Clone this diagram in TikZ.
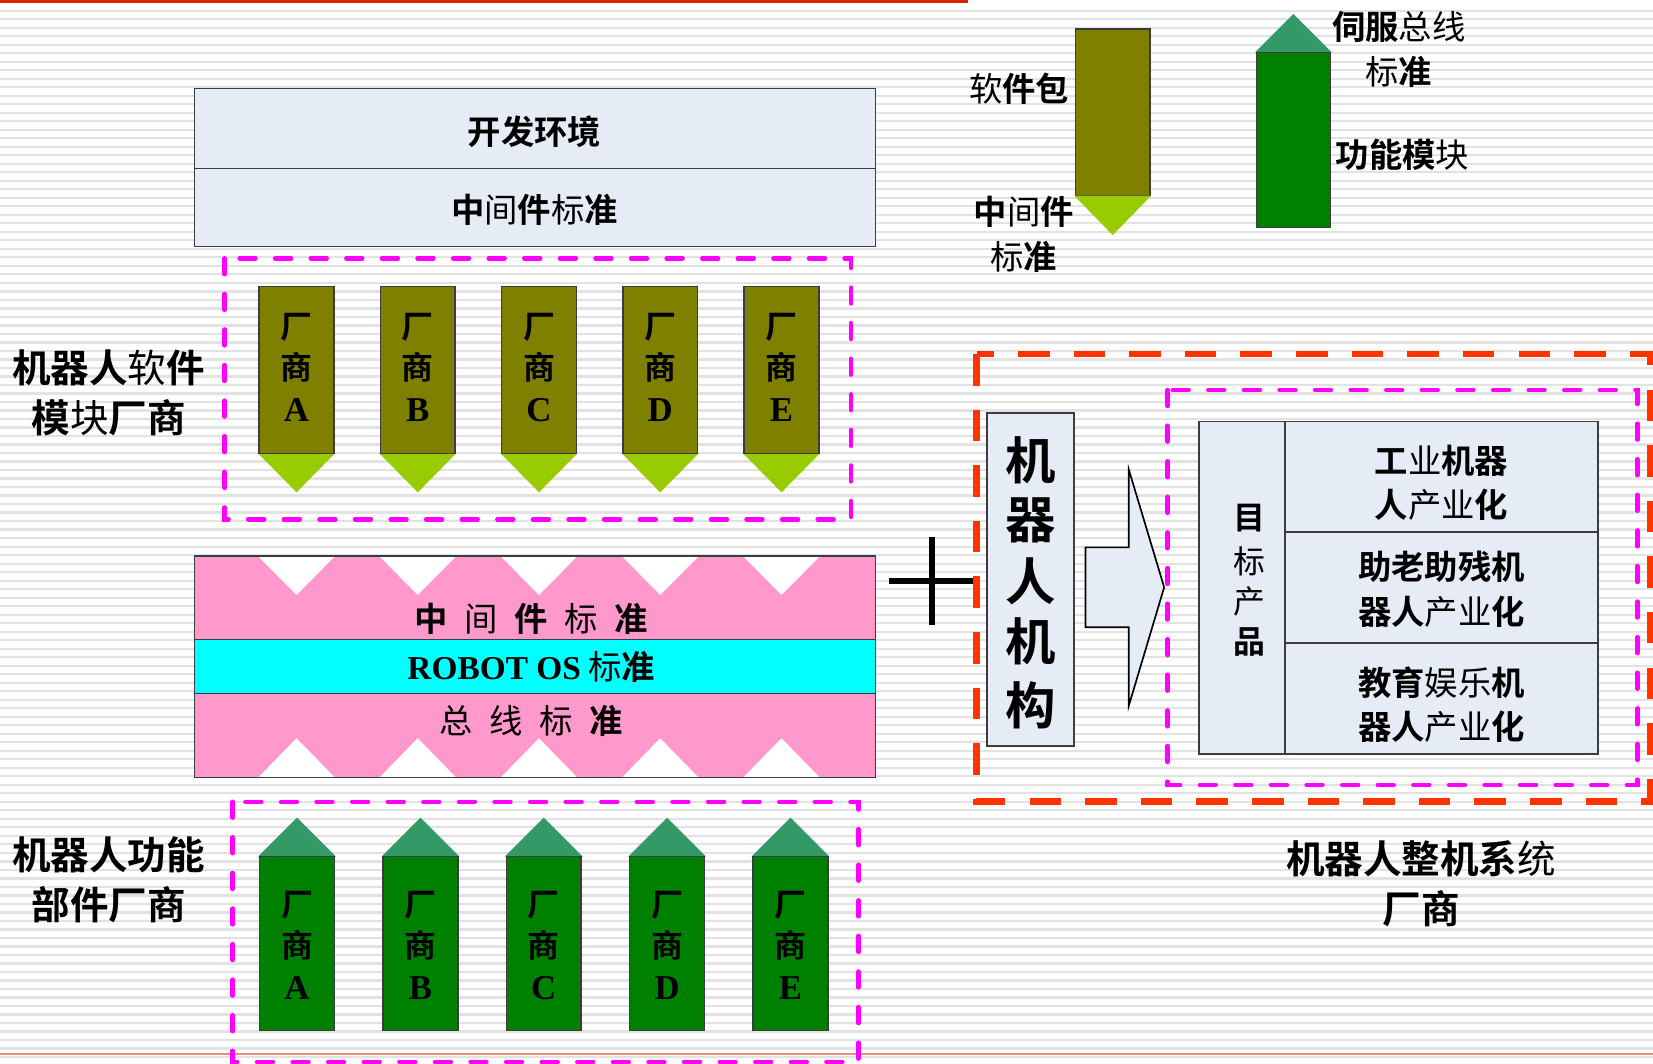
\documentclass[tikz,border=0pt]{standalone}
\usepackage{fontspec}
\newfontfamily\cjk{Noto Sans CJK SC}[BoldFont={Noto Sans CJK SC Bold}]
\newfontfamily\tms{Liberation Serif}
\newcommand\rg[1]{{\mdseries#1}}
\definecolor{lb}{RGB}{230,236,246}
\definecolor{olv}{RGB}{128,128,0}
\definecolor{lgr}{RGB}{153,204,0}
\definecolor{dgr}{RGB}{0,128,0}
\definecolor{sgr}{RGB}{51,153,102}
\definecolor{pnk}{RGB}{255,153,204}
\definecolor{cyn}{RGB}{0,255,255}
\definecolor{mag}{RGB}{255,0,255}
\definecolor{rdd}{RGB}{255,51,0}
\definecolor{topred}{RGB}{222,34,0}
\definecolor{salmon}{RGB}{232,140,125}
\definecolor{strp}{RGB}{226,226,226}
\definecolor{edge}{RGB}{60,60,60}
\begin{document}
\begin{tikzpicture}[x=0.01cm,y=-0.01cm,
  every node/.style={inner sep=0pt, outer sep=0pt},
  edgeline/.style={draw=edge, line width=0.4pt},
  stripe/.style={draw=strp, line width=0.6pt},
  mdash/.style={draw=mag, line width=1.2pt, line cap=round, dash pattern=on 4.3pt off 5.3pt},
  rdash/.style={draw=rdd, line width=1.8pt, dash pattern=on 8.5pt off 6.5pt},
  t9/.style={font=\cjk\bfseries\fontsize{9pt}{11.9pt}\selectfont, align=center},
  t9b/.style={font=\cjk\bfseries\fontsize{9pt}{12.2pt}\selectfont, align=center},
  tlab/.style={font=\cjk\bfseries\fontsize{10.4pt}{13.4pt}\selectfont, align=center},
  tpen/.style={font=\cjk\bfseries\fontsize{8.6pt}{10pt}\selectfont},
  tlat/.style={font=\tms\bfseries\fontsize{9.4pt}{10pt}\selectfont},
  tbig/.style={font=\cjk\bfseries\fontsize{13.6pt}{16pt}\selectfont},
  tros/.style={font=\cjk\bfseries\fontsize{9pt}{11pt}\selectfont},
]
% background
\fill[white] (0,0) rectangle (1568,1009);
\useasboundingbox (0,0) rectangle (1568,1009);
\foreach \k in {0,...,123} \draw[stripe] (0,{10.1+8.07*\k}) -- (1568,{10.1+8.07*\k});
\fill[topred] (0,0) rectangle (918,2.6);
\draw[salmon, line width=0.55pt] (0,1000) -- (1568,1000);

% top boxes
\path[fill=lb, edgeline] (184.7,83.8) rectangle (830.6,160);
\path[fill=lb, edgeline] (184.7,160) rectangle (830.6,234);
\node[t9] (dev) at (507,125) {开发环境};
\node[t9] (mid1) at (507,199) {中\rg{间}件\rg{标}准};

% software vendor pencils
\foreach \i/\L in {0/A,1/B,2/C,3/D,4/E} {
  \pgfmathsetmacro\cx{281.3+115*\i}
  \fill[lgr] (\cx-36.5,430) -- (\cx+36.5,430) -- (\cx,467) -- cycle;
  \path[fill=olv, edgeline] (\cx-35.5,272) rectangle (\cx+35.5,430);
  \node[tpen] (swa\L) at (\cx,310) {厂};
  \node[tpen] (swb\L) at (\cx,348) {商};
  \node[tlat] (swc\L) at (\cx,389) {\L};
}
\draw[mdash] (213,245) rectangle (807.2,492.6);

% standards band
\path[fill=pnk] (184.7,527.5) rectangle (830.5,737.7);
\foreach \i in {0,...,4} {
  \pgfmathsetmacro\cx{281.3+115*\i}
  \fill[white] (\cx-36.5,527.5) -- (\cx+36.5,527.5) -- (\cx,564.4) -- cycle;
  \fill[white] (\cx-36.5,737.7) -- (\cx+36.5,737.7) -- (\cx,700.3) -- cycle;
}
\path[fill=cyn, edgeline] (184.7,606.5) rectangle (830.5,658);
\draw[edgeline] (184.7,527.5) rectangle (830.5,737.7);
\node[t9] (midstd) at (504,587.3) {中\hspace{.5em}\rg{间}\hspace{.5em}件\hspace{.5em}\rg{标}\hspace{.5em}准};
\node[tros] (osstd) at (504,632.4) {{\tms ROBOT OS} \rg{标}准};
\node[t9] (busstd) at (504,683.7) {\rg{总}\hspace{.5em}\rg{线}\hspace{.5em}\rg{标}\hspace{.5em}准};

% hardware vendor pencils
\foreach \i/\L in {0/A,1/B,2/C,3/D,4/E} {
  \pgfmathsetmacro\cx{281.8+117*\i}
  \fill[sgr] (\cx-37,812.6) -- (\cx+37,812.6) -- (\cx,775.6) -- cycle;
  \path[fill=dgr, edgeline] (\cx-35.5,812.6) rectangle (\cx+35.5,977.7);
  \node[tpen] (hwa\L) at (\cx,858.5) {厂};
  \node[tpen] (hwb\L) at (\cx,896.4) {商};
  \node[tlat] (hwc\L) at (\cx,937.5) {\L};
}
\draw[mdash] (220.7,760.5) rectangle (814.4,1007.5);

% left labels
\node[tlab] (swv) at (103,372.5) {机器人\rg{软}件\\模\rg{块}厂商};
\node[tlab] (hwv) at (103,834.5) {机器人功能\\部件厂商};

% legend
\path[fill=olv, edgeline] (1020,27.5) rectangle (1091,185.6);
\fill[lgr] (1019,185.6) -- (1092,185.6) -- (1055.5,223) -- cycle;
\fill[sgr] (1190.5,49.6) -- (1263.1,49.6) -- (1226.8,13.3) -- cycle;
\path[fill=dgr, edgeline] (1191.7,49.6) rectangle (1262.3,216);
\node[t9] (lgsw) at (966.8,83.7) {\rg{软}件包};
\node[t9b] (lgmid) at (971.2,222.2) {中\rg{间}件\\\rg{标}准};
\node[t9b] (lgbus) at (1327,46.6) {伺服\rg{总线}\\\rg{标}准};
\node[t9] (lgfun) at (1330.4,147) {功能模\rg{块}};

% plus sign
\coordinate (plusL) at (843,551);
\coordinate (plusR) at (925,551);
\coordinate (plusT) at (884,509);
\coordinate (plusB) at (884,593);
\draw[line width=1.75pt] (plusL) -- (plusR);
\draw[line width=1.75pt] (plusT) -- (plusB);

% whole-system vendor
\draw[rdash] (926.6,335.8) rectangle (1565,760.5);
\path[fill=lb, draw=edge, line width=0.6pt] (936.6,392) rectangle (1018.8,707.6);
\foreach \c/\y/\n in {机/436.3/1, 器/493.3/2, 人/551.8/3, 机/608.7/4, 构/668.7/5}
  \node[tbig] (mech\n) at (977.7,\y) {\c};
\path[fill=lb, draw=black, line width=0.45pt] (1029.7,519.2) -- (1070.7,519.2) -- (1070.7,445.2) -- (1104.3,557.1) -- (1070.7,669.7) -- (1070.7,595) -- (1029.7,595) -- cycle;
\draw[mdash] (1107.6,370) rectangle (1553.2,744.6);
\path[fill=lb, edgeline] (1137.3,399.7) rectangle (1516,715);
\draw[edgeline] (1219.1,399.7) -- (1219.1,715);
\draw[edgeline] (1219.1,504.6) -- (1516,504.6);
\draw[edgeline] (1219.1,610) -- (1516,610);
\foreach \c/\y/\n in {目/491.7/1, \rg{标}/532.8/2, \rg{产}/570.7/3, 品/608.7/4}
  \node[tpen] (tgt\n) at (1185.2,\y) {\c};
\node[t9] (prod1) at (1367.5,458) {工\rg{业}机器\\人\rg{产业}化};
\node[t9] (prod2) at (1367.5,559) {助老助残机\\器人\rg{产业}化};
\node[t9] (prod3) at (1367.5,668) {教育\rg{娱乐}机\\器人\rg{产业}化};
\node[tlab] (sysv) at (1348,838.5) {机器人整机系\rg{统}\\厂商};
\end{tikzpicture}
\end{document}
